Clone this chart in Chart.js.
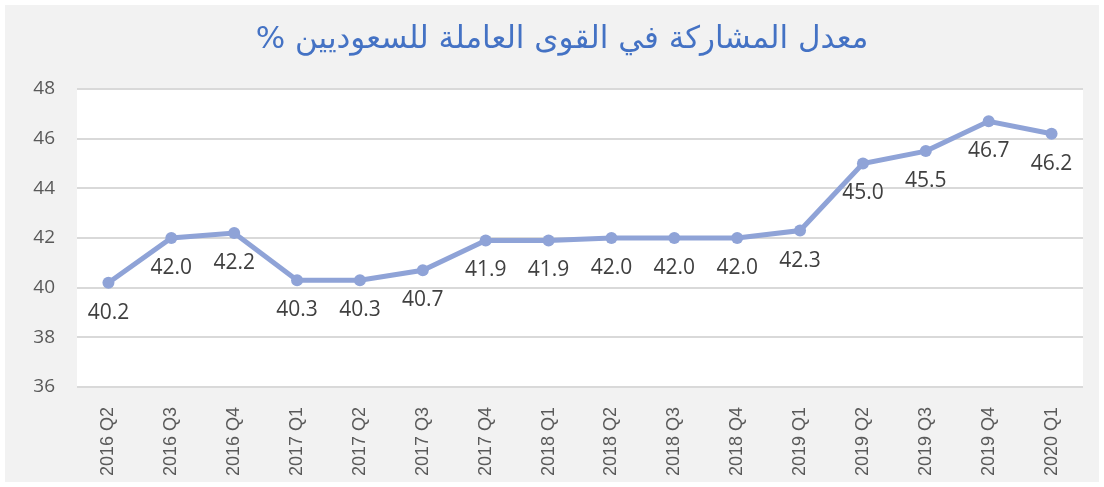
<!DOCTYPE html>
<html lang="ar">
<head>
    <meta charset="UTF-8">
    <title>Saudi labour force participation</title>
    <script src="https://cdn.jsdelivr.net/npm/chart.js"></script>
    <style>
        html, body { margin: 0; padding: 0; background: #ffffff; }
        #wrap { width: 1104px; height: 487px; }
    </style>
</head>
<body>
    <div id="wrap"><canvas id="lfpChart" width="1104" height="487"></canvas></div>

    <script>
        // data
        const quarters = ['2016 Q2', '2016 Q3', '2016 Q4', '2017 Q1', '2017 Q2', '2017 Q3', '2017 Q4', '2018 Q1',
                          '2018 Q2', '2018 Q3', '2018 Q4', '2019 Q1', '2019 Q2', '2019 Q3', '2019 Q4', '2020 Q1'];
        const participation = [40.2, 42.0, 42.2, 40.3, 40.3, 40.7, 41.9, 41.9, 42.0, 42.0, 42.0, 42.3, 45.0, 45.5, 46.7, 46.2];
        const yTicks = [36, 38, 40, 42, 44, 46, 48];
        const chartTitle = 'معدل المشاركة في القوى العاملة للسعوديين %';

        // grey frame, white plot area and the title
        const frame = {
            id: 'frame',
            beforeDraw(chart) {
                const ctx = chart.ctx;
                const a = chart.chartArea;
                ctx.save();
                ctx.fillStyle = '#f2f2f2';
                ctx.fillRect(5, 5, chart.width - 10, chart.height - 10);
                ctx.fillStyle = '#ffffff';
                ctx.fillRect(a.left, a.top, a.right - a.left, a.bottom - a.top);
                ctx.fillStyle = '#4472c4';
                ctx.font = '31px "DejaVu Sans"';
                ctx.direction = 'rtl';
                ctx.textAlign = 'center';
                ctx.textBaseline = 'middle';
                ctx.fillText(chartTitle, 562, 40);
                ctx.restore();
            }
        };

        // value labels under each point
        const valueLabels = {
            id: 'valueLabels',
            afterDatasetsDraw(chart) {
                const ctx = chart.ctx;
                const meta = chart.getDatasetMeta(0);
                ctx.save();
                ctx.fillStyle = '#404040';
                ctx.font = '21px "Open Sans"';
                ctx.textAlign = 'center';
                ctx.textBaseline = 'middle';
                meta.data.forEach((pt, i) => {
                    ctx.fillText(participation[i].toFixed(1), pt.x, pt.y + 30);
                });
                ctx.restore();
            }
        };

        const ctx = document.getElementById('lfpChart').getContext('2d');
        const chart = new Chart(ctx, {
            type: 'line',
            data: {
                labels: quarters,
                datasets: [{
                    data: participation,
                    borderColor: '#8fa3d7',
                    backgroundColor: '#8fa3d7',
                    borderWidth: 5,
                    pointRadius: 6,
                    pointBackgroundColor: '#8fa3d7',
                    pointBorderWidth: 0,
                    tension: 0
                }]
            },
            options: {
                responsive: false,
                animation: false,
                layout: { padding: { top: 89, right: 21, left: 0, bottom: 0 } },
                plugins: {
                    legend: { display: false },
                    tooltip: { enabled: false }
                },
                scales: {
                    x: {
                        offset: true,
                        grid: { display: false },
                        border: { display: false },
                        ticks: {
                            color: '#595959',
                            font: { family: 'Liberation Sans', size: 18 },
                            minRotation: 90,
                            maxRotation: 90,
                            autoSkip: false,
                            padding: 12
                        },
                        afterFit(scale) { scale.height = 100; }
                    },
                    y: {
                        min: 36,
                        max: 48,
                        afterBuildTicks(scale) { scale.ticks = yTicks.map(v => ({ value: v })); },
                        grid: { color: '#d9d9d9', lineWidth: 2, drawTicks: false },
                        border: { display: false },
                        ticks: {
                            color: '#595959',
                            font: { family: 'Open Sans', size: 19 },
                            padding: 22
                        },
                        afterFit(scale) { scale.width = 77; }
                    }
                }
            },
            plugins: [frame, valueLabels]
        });
    </script>
</body>
</html>
